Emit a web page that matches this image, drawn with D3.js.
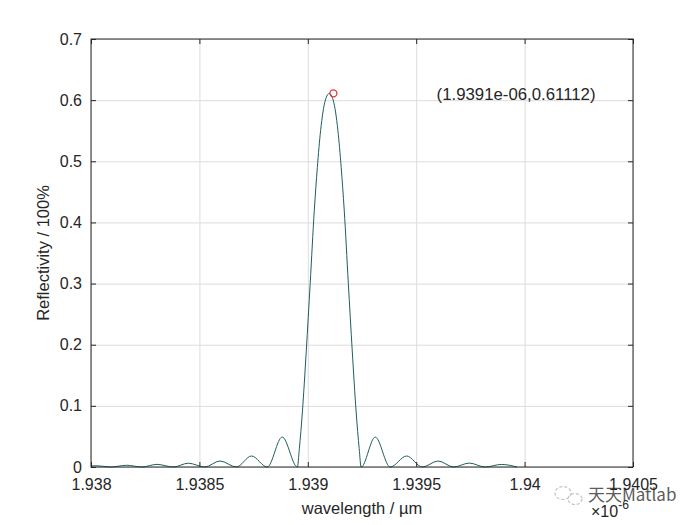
<!DOCTYPE html>
<html>
<head>
<meta charset="UTF-8">
<title>reflectivity</title>
<style>
  body { margin: 0; background: #fff; }
  text { font-family: Arial, "Liberation Sans", sans-serif; fill: #262626; }
</style>
</head>
<body>
<script src="https://cdn.jsdelivr.net/npm/d3@7"></script>
<svg id="chart" width="700" height="525"></svg>
<script>
// wavelength in units of 1e-6 m, reflectivity
const wavelength = [
  1.938000, 1.938027, 1.938090, 1.938165, 1.938235, 1.938304, 1.938380, 1.938449,
  1.938525, 1.938595, 1.938671, 1.938740, 1.938813, 1.938882, 1.938952,
  1.938961, 1.938975, 1.938993, 1.939011, 1.939030, 1.939044, 1.939059, 1.939081,
  1.939099,
  1.939117, 1.939139, 1.939154, 1.939168, 1.939187, 1.939205, 1.939223, 1.939237,
  1.939246, 1.939311, 1.939380, 1.939456, 1.939528, 1.939601, 1.939673, 1.939745,
  1.939818, 1.939893, 1.939965
];
const reflectivity = [
  0.0017, 0.0020, 0.0000, 0.0028, 0.0000, 0.0043, 0.0000, 0.0062,
  0.0000, 0.0098, 0.0000, 0.0180, 0.0000, 0.0490, 0.0000,
  0.030, 0.090, 0.190, 0.300, 0.420, 0.490, 0.550, 0.600,
  0.611,
  0.600, 0.550, 0.490, 0.420, 0.300, 0.190, 0.090, 0.030,
  0.0000, 0.0490, 0.0000, 0.0180, 0.0000, 0.0098, 0.0000, 0.0064,
  0.0000, 0.0042, 0.0000
];

const xTicks = [1.938, 1.9385, 1.939, 1.9395, 1.94, 1.9405];
const xTickLabels = ["1.938", "1.9385", "1.939", "1.9395", "1.94", "1.9405"];
const yTicks = [0, 0.1, 0.2, 0.3, 0.4, 0.5, 0.6, 0.7];
const yTickLabels = ["0", "0.1", "0.2", "0.3", "0.4", "0.5", "0.6", "0.7"];

const peakPoint = [1.939118, 0.61112];
const peakLabel = "(1.9391e-06,0.61112)";
const peakLabelAt = [1.939594, 0.6111];

const svg = d3.select("#chart");
const margin = {top: 39, right: 67, bottom: 58, left: 91};
const width = 700 - margin.left - margin.right,
      height = 525 - margin.top - margin.bottom;

const x = d3.scaleLinear().domain([1.938, 1.9405]).range([0, width]);
const y = d3.scaleLinear().domain([0, 0.7]).range([height, 0]);

svg.append("rect").attr("width", 700).attr("height", 525).attr("fill", "#fff");

const g = svg.append("g").attr("transform", `translate(${margin.left},${margin.top})`);

// grid
g.append("g")
  .attr("transform", `translate(0,${height})`)
  .call(d3.axisBottom(x).tickValues(xTicks).tickSize(-height).tickFormat(""))
  .call(s => s.select(".domain").remove())
  .selectAll("line").attr("stroke", "#dcdcdc");
g.append("g")
  .call(d3.axisLeft(y).tickValues(yTicks).tickSize(-width).tickFormat(""))
  .call(s => s.select(".domain").remove())
  .selectAll("line").attr("stroke", "#dcdcdc");

// curve
const pts = wavelength.map((w, i) => [w, reflectivity[i]]);
g.append("path")
  .datum(pts)
  .attr("fill", "none")
  .attr("stroke", "#1f5e5c")
  .attr("stroke-width", 1)
  .attr("d", d3.line().x(d => x(d[0])).y(d => y(d[1])).curve(d3.curveMonotoneX));

// box
g.append("rect")
  .attr("width", width).attr("height", height)
  .attr("fill", "none").attr("stroke", "#262626").attr("stroke-width", 1);

// axes, ticks inward
const fmtX = d => xTickLabels[xTicks.indexOf(d)];
const fmtY = d => yTickLabels[yTicks.indexOf(d)];

const xAxis = g.append("g")
  .attr("transform", `translate(0,${height})`)
  .call(d3.axisBottom(x).tickValues(xTicks).tickSizeInner(-5).tickSizeOuter(0).tickPadding(12).tickFormat(fmtX));
xAxis.select(".domain").remove();
xAxis.selectAll("line").attr("stroke", "#262626");
xAxis.selectAll("text").style("font-size", "16px").attr("fill", "#262626");

const xTop = g.append("g")
  .call(d3.axisTop(x).tickValues(xTicks).tickSizeInner(-5).tickSizeOuter(0).tickFormat(""));
xTop.select(".domain").remove();
xTop.selectAll("line").attr("stroke", "#262626");

const yAxis = g.append("g")
  .call(d3.axisLeft(y).tickValues(yTicks).tickSizeInner(-5).tickSizeOuter(0).tickPadding(9).tickFormat(fmtY));
yAxis.select(".domain").remove();
yAxis.selectAll("line").attr("stroke", "#262626");
yAxis.selectAll("text").style("font-size", "16px").attr("fill", "#262626");

const yRight = g.append("g")
  .attr("transform", `translate(${width},0)`)
  .call(d3.axisRight(y).tickValues(yTicks).tickSizeInner(-5).tickSizeOuter(0).tickFormat(""));
yRight.select(".domain").remove();
yRight.selectAll("line").attr("stroke", "#262626");

// peak marker and label
g.append("circle")
  .attr("cx", x(peakPoint[0])).attr("cy", y(peakPoint[1]))
  .attr("r", 3.5)
  .attr("fill", "none").attr("stroke", "#e8323c").attr("stroke-width", 1.3);

g.append("text")
  .attr("x", x(peakLabelAt[0])).attr("y", y(peakLabelAt[1]))
  .attr("dy", "0.4em")
  .style("font-size", "16.8px")
  .text(peakLabel);

// axis labels
svg.append("text")
  .attr("x", margin.left + width / 2).attr("y", 514)
  .attr("text-anchor", "middle")
  .style("font-size", "16.5px")
  .text("wavelength / \u00b5m");

svg.append("text")
  .attr("transform", `translate(49,${margin.top + height / 2}) rotate(-90)`)
  .attr("text-anchor", "middle")
  .style("font-size", "16.5px")
  .text("Reflectivity / 100%");

const expo = svg.append("text")
  .attr("x", 591).attr("y", 517)
  .style("font-size", "16px");
expo.append("tspan").text("\u00d710");
expo.append("tspan").attr("dy", -8).style("font-size", "12px").text("-6");

// watermark
const wm = svg.append("g").attr("opacity", 0.75);
wm.append("ellipse").attr("cx", 563).attr("cy", 493).attr("rx", 8).attr("ry", 6.5)
  .attr("fill", "none").attr("stroke", "#b0b0b0").attr("stroke-width", 1.2).attr("stroke-dasharray", "3 2");
wm.append("ellipse").attr("cx", 575).attr("cy", 499).attr("rx", 7).attr("ry", 5.5)
  .attr("fill", "none").attr("stroke", "#b0b0b0").attr("stroke-width", 1.2).attr("stroke-dasharray", "3 2");
wm.append("text")
  .attr("x", 588).attr("y", 501)
  .style("font-family", "'Noto Sans CJK SC', sans-serif")
  .style("font-size", "17px")
  .attr("fill", "#b0b0b0")
  .text("天天Matlab");
</script>
</body>
</html>
